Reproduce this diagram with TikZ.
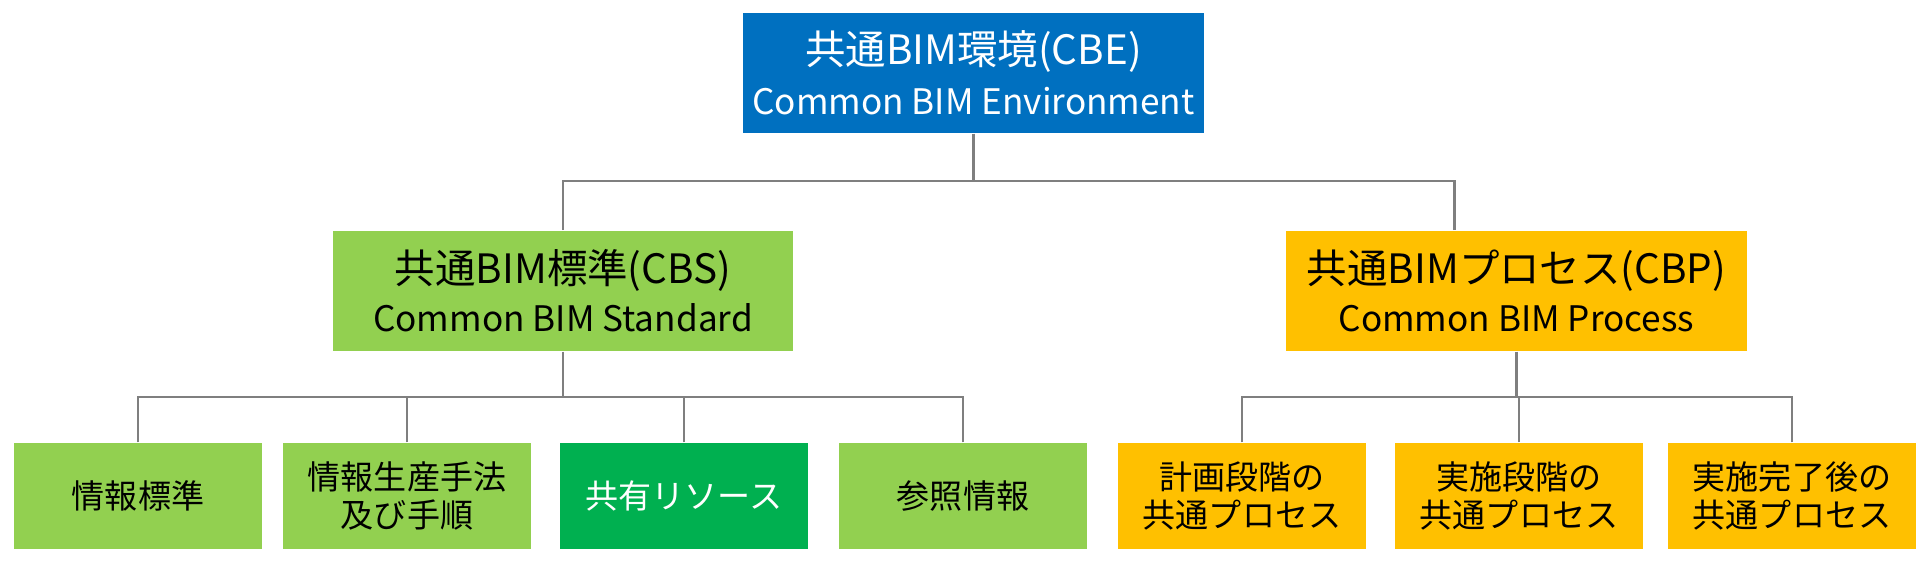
\documentclass[tikz,border=0pt]{standalone}
\usepackage{fontspec}
\setmainfont{Noto Sans CJK JP}
\usepackage{xcolor}
\usepackage{tikz}
\usetikzlibrary{positioning, calc}

\definecolor{cbeblue}{HTML}{0070C0}
\definecolor{cbsgreen}{HTML}{92D050}
\definecolor{sharegreen}{HTML}{00B050}
\definecolor{cbporange}{HTML}{FFC000}
\definecolor{linkgray}{HTML}{7F7F7F}

\begin{document}
\begin{tikzpicture}[
    x=0.01cm, y=-0.01cm,
    head/.style={rectangle, minimum width=4.6cm, minimum height=1.2cm, inner sep=0pt, align=center,
        font=\fontsize{11.5}{14.2}\selectfont},
    part/.style={rectangle, minimum width=4.6cm, minimum height=1.2cm, inner sep=0pt, align=center,
        font=\fontsize{11.5}{13.7}\selectfont},
    item/.style={rectangle, minimum width=2.47cm, minimum height=1.06cm, inner sep=0pt, align=center,
        font=\fontsize{9.4}{10.8}\selectfont},
    link/.style={draw=linkgray, line width=0.6pt}
]
    \useasboundingbox (0,0) rectangle (1920,565);

    % Top
    \node[head, fill=cbeblue, text=white] (cbe) at (973.5,73)
        {共通BIM環境(CBE)\\{\fontsize{10}{14.2}\selectfont Common BIM Environment}};

    % Standard and process
    \node[part, fill=cbsgreen] (cbs) at (563,291)
        {共通BIM標準(CBS)\\{\fontsize{10}{13.7}\selectfont Common BIM Standard}};
    \node[part, fill=cbporange] (cbp) at (1516.5,291)
        {共通BIMプロセス(CBP)\\{\fontsize{10}{13.7}\selectfont Common BIM Process}};

    % Standard items
    \node[item, fill=cbsgreen] (std) at (138,496) {情報標準};
    \node[item, fill=cbsgreen] (method) at (407,496) {情報生産手法\\及び手順};
    \node[item, fill=sharegreen, text=white] (share) at (684,496) {共有リソース};
    \node[item, fill=cbsgreen] (ref) at (963,496) {参照情報};

    % Process items
    \node[item, fill=cbporange] (plan) at (1242,496) {計画段階の\\共通プロセス};
    \node[item, fill=cbporange] (exec) at (1519,496) {実施段階の\\共通プロセス};
    \node[item, fill=cbporange] (after) at (1792,496) {実施完了後の\\共通プロセス};

    % Links
    \coordinate (topbus) at ($(cbe.south)+(0,47)$);
    \coordinate (cbpin) at ($(cbp.north)+(-62,0)$);
    \draw[link] (cbe.south) -- (topbus);
    \draw[link] (cbs.north) |- (topbus);
    \draw[link] (cbpin) |- (topbus);

    \coordinate (stdbus) at ($(cbs.south)+(0,45)$);
    \foreach \n in {std, method, share, ref}
        \draw[link] (\n.north) |- (stdbus);
    \draw[link] (cbs.south) -- (stdbus);

    \coordinate (cbpbus) at ($(cbp.south)+(0,45)$);
    \foreach \n in {plan, exec, after}
        \draw[link] (\n.north) |- (cbpbus);
    \draw[link] (cbp.south) -- (cbpbus);
\end{tikzpicture}
\end{document}
